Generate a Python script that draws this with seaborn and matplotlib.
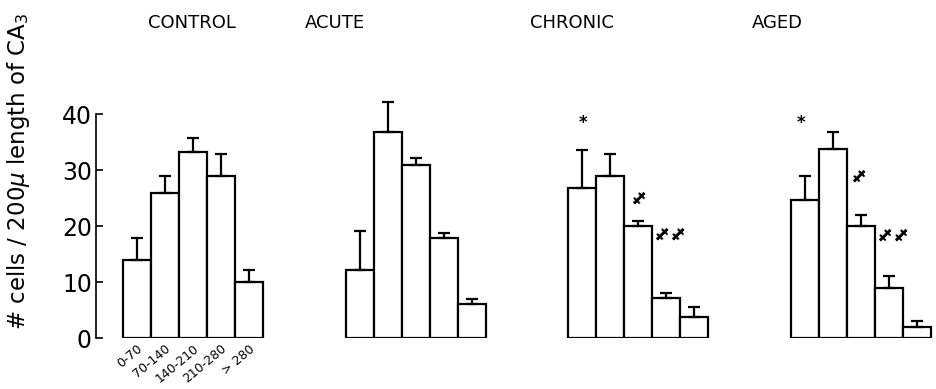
import matplotlib
matplotlib.use("Agg")
import matplotlib.pyplot as plt
import seaborn as sns
import numpy as np

# distance bins (microns) and group means / error tops
bins = ["0-70", "70-140", "140-210", "210-280", "> 280"]
groups = ["CONTROL", "ACUTE", "CHRONIC", "AGED"]

control_mean = [14.0, 26.0, 33.2, 29.0, 10.0]
control_err = [17.8, 28.9, 35.7, 32.9, 12.1]
acute_mean = [12.1, 36.9, 30.9, 17.9, 6.1]
acute_err = [19.2, 42.2, 32.1, 18.7, 7.0]
chronic_mean = [26.9, 29.0, 20.1, 7.1, 3.8]
chronic_err = [33.6, 32.9, 21.0, 8.0, 5.5]
aged_mean = [24.7, 33.8, 20.1, 9.0, 2.0]
aged_err = [29.0, 36.8, 21.9, 11.1, 3.0]

# significance marks: (bar position, height, symbol)
chronic_marks = [(0.05, 38.5, "*"), (2.0, 25.0, "‡"), (2.8, 18.6, "‡"), (3.4, 18.6, "‡")]
aged_marks = [(-0.15, 38.5, "*"), (1.9, 29.0, "‡"), (2.8, 18.4, "‡"), (3.4, 18.4, "‡")]

means = [control_mean, acute_mean, chronic_mean, aged_mean]
errs = [control_err, acute_err, chronic_err, aged_err]
marks = [[], [], chronic_marks, aged_marks]

sns.set_style("white")
plt.rcParams["font.family"] = ["DejaVu Sans"]
for key in ["text.color", "axes.labelcolor", "xtick.color", "ytick.color"]:
    plt.rcParams[key] = "black"

fig = plt.figure(figsize=(9.36, 3.89), dpi=100)

ax_lefts = [0.1026, 0.3408, 0.578, 0.8162]
title_x = [0.158, 0.326, 0.566, 0.803]
for i, g in enumerate(groups):
    ax = fig.add_axes([ax_lefts[i], 0.131, 0.1813, 0.633])
    sns.barplot(x=bins, y=means[i], ax=ax, color="white", edgecolor="black",
                linewidth=1.6, width=1.0, errorbar=None, saturation=1)
    pos = np.arange(len(bins))
    up = np.array(errs[i]) - np.array(means[i])
    ax.errorbar(pos, means[i], yerr=[np.zeros(len(bins)), up], fmt="none",
                ecolor="black", elinewidth=1.6, capsize=4, capthick=1.6)
    ax.set_xlim(-1.46, 4.6)
    ax.set_ylim(0, 44)
    ax.set_xlabel("")
    for side in ["top", "right", "bottom"]:
        ax.spines[side].set_visible(False)
    if i == 0:
        ax.spines["left"].set_bounds(0, 40)
        ax.spines["left"].set_linewidth(1.2)
        ax.spines["left"].set_color("black")
        ax.set_yticks([0, 10, 20, 30, 40])
        ax.tick_params(axis="y", direction="in", length=5, width=1.2,
                       labelsize=17, pad=3, left=True)
        ax.set_xticks(pos)
        ax.set_xticklabels(bins, rotation=40, ha="right", va="top",
                           rotation_mode="anchor", fontsize=9)
        ax.tick_params(axis="x", length=0, pad=3)
    else:
        ax.spines["left"].set_visible(False)
        ax.set_yticks([])
        ax.set_xticks([])
    for (x, y, s) in marks[i]:
        if s == "*":
            ax.text(x, y, s, ha="center", va="center", fontsize=12, fontweight="bold")
        else:
            ax.text(x, y, s, ha="center", va="center", fontsize=13,
                    fontweight="bold", rotation=-45)
    fig.text(title_x[i], 0.94, g, ha="left", va="center", fontsize=13)

fig.text(0.02, 0.56, "# cells / 200$\\mu$ length of CA$_3$", rotation=90,
         ha="center", va="center", fontsize=16.5)

fig.savefig("out.png", dpi=100)
